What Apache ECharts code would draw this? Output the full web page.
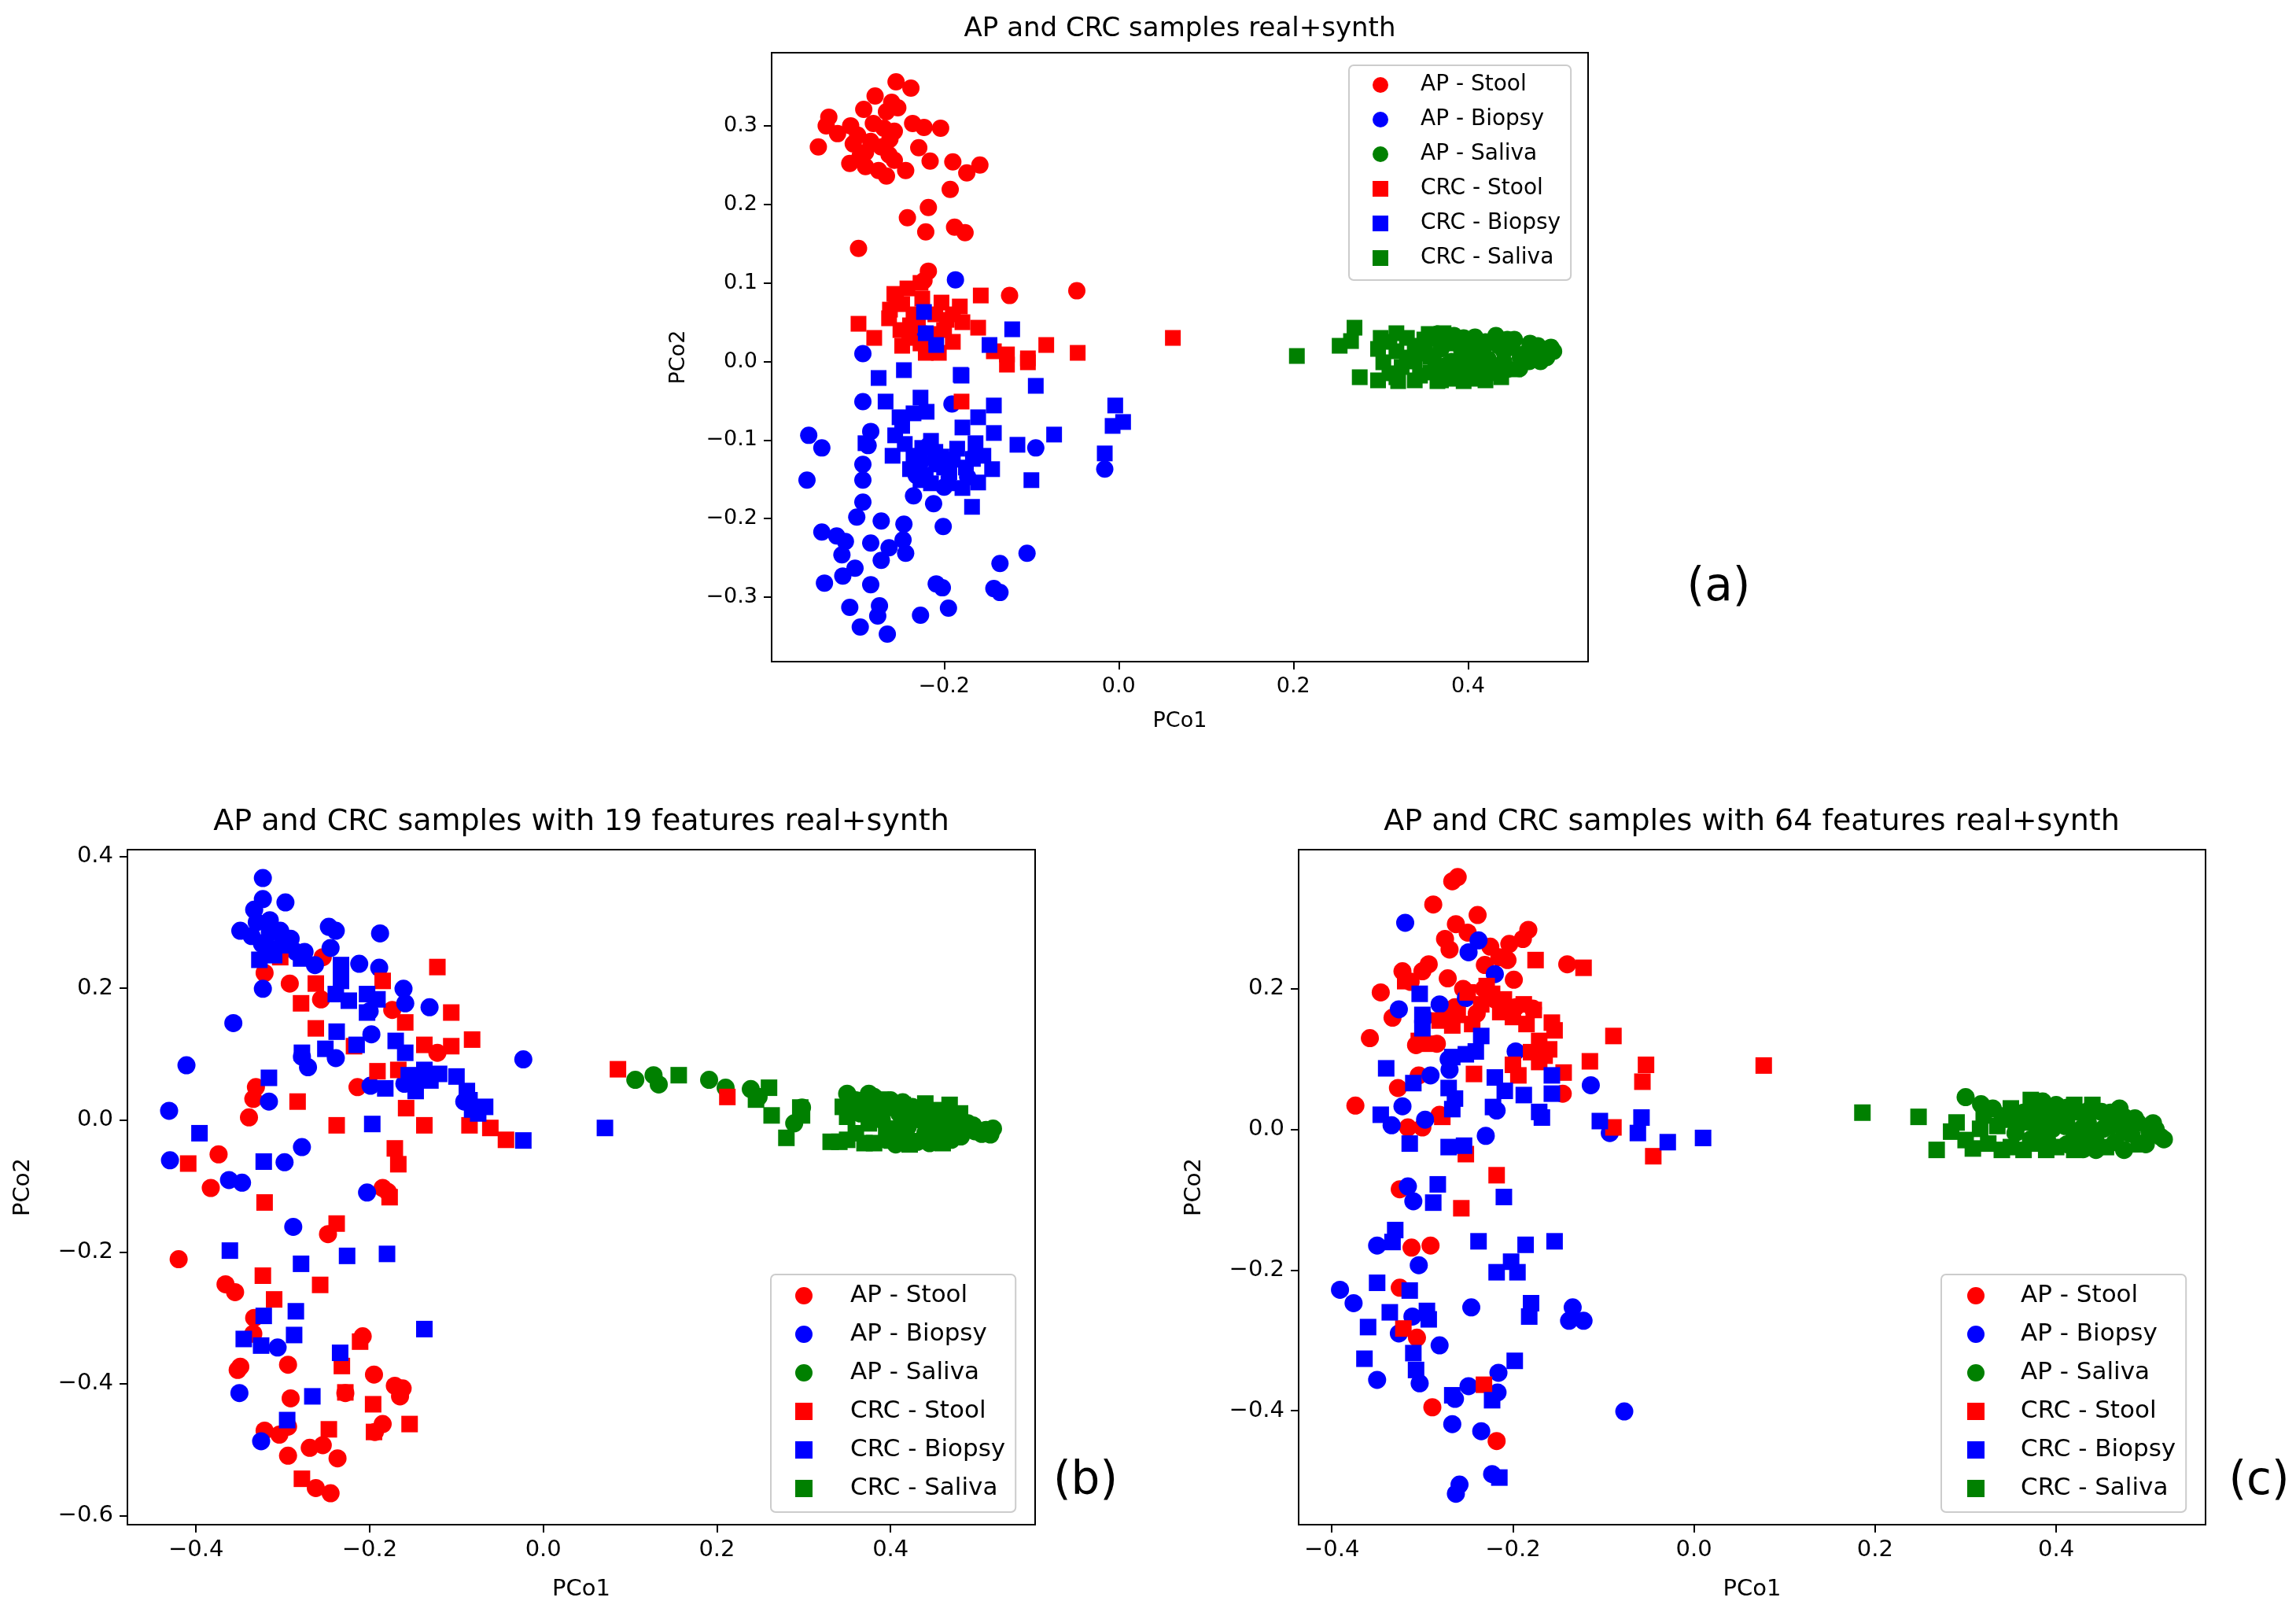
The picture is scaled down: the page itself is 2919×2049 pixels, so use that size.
<!DOCTYPE html>
<html>
<head>
<meta charset="utf-8">
<script src="https://cdn.jsdelivr.net/npm/echarts@6/dist/echarts.min.js"></script>
<style>html,body{margin:0;padding:0;background:#fff}#c{width:2919px;height:2049px}</style>
</head>
<body>
<div id="c"></div>
<script>
// ---------- Panel (a) ----------
const aXTicks = [-0.2, 0.0, 0.2, 0.4];
const aYTicks = [-0.3, -0.2, -0.1, 0.0, 0.1, 0.2, 0.3];
const a_apStool = [[-0.255,0.356],[-0.238,0.348],[-0.279,0.338],[-0.260,0.330],[-0.253,0.323],[-0.292,0.321],[-0.266,0.318],[-0.332,0.311],[-0.335,0.300],[-0.322,0.290],[-0.307,0.300],[-0.344,0.273],[-0.299,0.288],[-0.304,0.277],[-0.269,0.297],[-0.257,0.293],[-0.236,0.303],[-0.223,0.298],[-0.204,0.297],[-0.229,0.272],[-0.284,0.280],[-0.272,0.273],[-0.263,0.263],[-0.308,0.252],[-0.290,0.248],[-0.275,0.243],[-0.266,0.236],[-0.244,0.243],[-0.216,0.255],[-0.190,0.254],[-0.159,0.250],[-0.174,0.240],[-0.193,0.219],[-0.218,0.196],[-0.242,0.183],[-0.221,0.165],[-0.188,0.171],[-0.176,0.164],[-0.298,0.144],[-0.218,0.115],[-0.223,0.103],[-0.125,0.084],[-0.048,0.090],[-0.290,0.266],[-0.257,0.256],[-0.281,0.303],[-0.296,0.262],[-0.262,0.283]];
const a_apBiopsy = [[-0.187,0.104],[-0.293,0.010],[-0.293,-0.051],[-0.355,-0.094],[-0.340,-0.110],[-0.357,-0.151],[-0.284,-0.089],[-0.287,-0.107],[-0.293,-0.131],[-0.293,-0.151],[-0.293,-0.179],[-0.300,-0.198],[-0.272,-0.203],[-0.246,-0.207],[-0.201,-0.210],[-0.340,-0.217],[-0.323,-0.222],[-0.313,-0.229],[-0.317,-0.246],[-0.284,-0.231],[-0.263,-0.237],[-0.247,-0.227],[-0.244,-0.244],[-0.272,-0.253],[-0.302,-0.263],[-0.316,-0.273],[-0.337,-0.282],[-0.284,-0.284],[-0.209,-0.283],[-0.202,-0.288],[-0.136,-0.257],[-0.105,-0.244],[-0.143,-0.289],[-0.136,-0.294],[-0.308,-0.313],[-0.274,-0.311],[-0.276,-0.324],[-0.296,-0.338],[-0.265,-0.347],[-0.227,-0.323],[-0.195,-0.314],[-0.095,-0.110],[-0.016,-0.137],[-0.235,-0.171],[-0.212,-0.181],[-0.191,-0.054],[-0.226,-0.127],[-0.173,-0.147],[-0.218,-0.107],[-0.222,0.035],[-0.215,0.025],[-0.232,-0.145],[-0.200,-0.160],[-0.165,-0.120]];
const a_apSaliva = [[0.357,0.030],[0.384,0.033],[0.408,0.031],[0.432,0.033],[0.453,0.028],[0.471,0.023],[0.492,0.016],[0.498,0.013],[0.483,0.000],[0.459,-0.009],[0.429,-0.014],[0.399,-0.014],[0.369,0.016],[0.393,0.013],[0.417,0.016],[0.441,0.013],[0.465,0.010],[0.381,0.000],[0.411,0.000],[0.441,0.000],[0.474,0.013],[0.363,-0.007],[0.423,0.003],[0.387,-0.010],[0.486,0.010],[0.495,0.018],[0.350,0.020],[0.360,0.005],[0.375,0.025],[0.375,-0.005],[0.390,0.022],[0.400,0.005],[0.405,-0.008],[0.420,0.025],[0.425,-0.005],[0.435,0.020],[0.445,-0.010],[0.450,0.018],[0.460,0.005],[0.470,0.000],[0.480,0.020],[0.490,0.005],[0.415,-0.018],[0.445,0.028],[0.365,0.035],[0.395,0.030]];
const a_crcStool = [[-0.158,0.084],[-0.257,0.086],[-0.242,0.093],[-0.227,0.100],[-0.262,0.066],[-0.248,0.073],[-0.203,0.075],[-0.182,0.070],[-0.298,0.048],[-0.263,0.055],[-0.239,0.046],[-0.197,0.053],[-0.179,0.050],[-0.161,0.043],[-0.280,0.030],[-0.248,0.020],[-0.227,0.023],[-0.190,0.025],[-0.083,0.021],[-0.047,0.011],[-0.128,0.009],[-0.104,0.004],[-0.221,0.011],[-0.206,0.011],[-0.143,0.013],[-0.128,-0.004],[-0.104,-0.001],[-0.180,-0.051],[0.062,0.030],[-0.235,0.060],[-0.215,0.035],[-0.250,0.040],[-0.230,0.050],[-0.210,0.060],[-0.240,0.030],[-0.200,0.040],[-0.190,0.060],[-0.255,0.075],[-0.225,0.080]];
const a_crcBiopsy = [[-0.275,-0.021],[-0.246,-0.011],[-0.181,-0.017],[-0.095,-0.031],[-0.267,-0.051],[-0.227,-0.046],[-0.220,-0.064],[-0.251,-0.071],[-0.248,-0.082],[-0.256,-0.094],[-0.235,-0.066],[-0.143,-0.056],[-0.161,-0.071],[-0.143,-0.091],[-0.179,-0.084],[-0.116,-0.106],[-0.074,-0.093],[-0.004,-0.056],[0.005,-0.077],[-0.007,-0.082],[-0.016,-0.117],[-0.259,-0.120],[-0.215,-0.101],[-0.203,-0.121],[-0.185,-0.111],[-0.164,-0.104],[-0.239,-0.137],[-0.221,-0.144],[-0.209,-0.131],[-0.194,-0.141],[-0.167,-0.124],[-0.145,-0.137],[-0.161,-0.154],[-0.179,-0.161],[-0.100,-0.151],[-0.168,-0.185],[-0.227,-0.151],[-0.290,-0.104],[-0.223,0.063],[-0.122,0.041],[-0.148,0.021],[-0.209,0.021],[-0.221,0.036],[-0.180,-0.018],[-0.235,-0.120],[-0.225,-0.110],[-0.230,-0.130],[-0.210,-0.115],[-0.200,-0.135],[-0.190,-0.125],[-0.245,-0.105],[-0.175,-0.135],[-0.155,-0.120],[-0.215,-0.155],[-0.195,-0.155]];
const a_crcSaliva = [[0.204,0.007],[0.270,0.043],[0.253,0.020],[0.266,0.026],[0.276,-0.020],[0.318,0.036],[0.297,0.016],[0.297,-0.024],[0.318,-0.020],[0.339,-0.024],[0.372,0.036],[0.369,-0.024],[0.420,-0.024],[0.438,-0.020],[0.303,-0.001],[0.318,0.013],[0.324,-0.007],[0.339,0.020],[0.339,0.000],[0.357,0.006],[0.357,-0.014],[0.387,0.000],[0.399,-0.017],[0.381,0.023],[0.408,0.013],[0.453,-0.010],[0.310,0.025],[0.310,-0.015],[0.330,0.030],[0.330,0.005],[0.345,-0.018],[0.350,0.028],[0.365,-0.025],[0.380,-0.022],[0.395,-0.025],[0.410,-0.022],[0.345,0.010],[0.300,0.030],[0.320,-0.025],[0.355,0.035]];

// ---------- Panel (b) ----------
const bXTicks = [-0.4, -0.2, 0.0, 0.2, 0.4];
const bYTicks = [-0.6, -0.4, -0.2, 0.0, 0.2, 0.4];
const b_apStool = [[-0.321,0.223],[-0.292,0.207],[-0.256,0.183],[-0.254,0.247],[-0.174,0.167],[-0.334,0.032],[-0.331,0.050],[-0.339,0.004],[-0.374,-0.052],[-0.383,-0.103],[-0.214,0.050],[-0.122,0.102],[-0.185,-0.103],[-0.179,-0.109],[-0.248,-0.173],[-0.420,-0.211],[-0.366,-0.249],[-0.355,-0.261],[-0.333,-0.300],[-0.334,-0.324],[-0.349,-0.374],[-0.352,-0.379],[-0.294,-0.371],[-0.208,-0.328],[-0.195,-0.386],[-0.171,-0.403],[-0.162,-0.407],[-0.165,-0.419],[-0.291,-0.422],[-0.228,-0.414],[-0.321,-0.471],[-0.304,-0.477],[-0.294,-0.465],[-0.185,-0.461],[-0.194,-0.473],[-0.269,-0.497],[-0.254,-0.493],[-0.294,-0.509],[-0.237,-0.513],[-0.262,-0.558],[-0.245,-0.566]];
const b_apBiopsy = [[-0.323,0.367],[-0.323,0.335],[-0.297,0.330],[-0.333,0.319],[-0.349,0.287],[-0.315,0.303],[-0.303,0.287],[-0.291,0.275],[-0.247,0.293],[-0.239,0.287],[-0.188,0.283],[-0.245,0.261],[-0.275,0.255],[-0.263,0.235],[-0.212,0.237],[-0.189,0.231],[-0.323,0.199],[-0.161,0.199],[-0.159,0.177],[-0.131,0.171],[-0.200,0.165],[-0.357,0.147],[-0.198,0.130],[-0.411,0.083],[-0.023,0.092],[-0.239,0.094],[-0.271,0.080],[-0.278,0.096],[-0.316,0.028],[-0.431,0.014],[-0.199,0.052],[-0.430,-0.061],[-0.298,-0.064],[-0.278,-0.041],[-0.362,-0.091],[-0.347,-0.095],[-0.203,-0.110],[-0.140,0.062],[-0.160,0.055],[-0.336,0.279],[-0.324,0.267],[-0.091,0.028],[-0.288,-0.162],[-0.306,-0.345],[-0.350,-0.414],[-0.325,-0.487],[-0.330,0.300],[-0.315,0.285],[-0.320,0.270],[-0.300,0.275],[-0.285,0.255]];
const b_apSaliva = [[0.106,0.061],[0.127,0.068],[0.133,0.054],[0.191,0.061],[0.210,0.049],[0.239,0.047],[0.248,0.035],[0.289,-0.005],[0.298,0.019],[0.352,0.035],[0.373,0.027],[0.397,0.019],[0.422,0.011],[0.447,-0.005],[0.472,-0.013],[0.497,-0.017],[0.518,-0.013],[0.406,-0.037],[0.431,-0.033],[0.456,-0.029],[0.481,-0.025],[0.505,-0.021],[0.356,0.019],[0.381,0.035],[0.414,0.027],[0.456,0.003],[0.489,-0.005],[0.360,0.030],[0.365,0.010],[0.375,0.040],[0.385,0.020],[0.390,0.000],[0.400,0.030],[0.410,0.010],[0.420,-0.010],[0.425,0.020],[0.435,0.000],[0.440,-0.020],[0.450,0.010],[0.460,-0.015],[0.465,0.005],[0.475,-0.005],[0.485,-0.015],[0.495,-0.008],[0.510,-0.015],[0.515,-0.022],[0.420,-0.028],[0.445,-0.035],[0.470,-0.030],[0.395,-0.030],[0.380,0.005],[0.350,0.040],[0.440,0.015]];
const b_crcStool = [[-0.122,0.232],[-0.303,0.247],[-0.279,0.177],[-0.262,0.207],[-0.185,0.211],[-0.106,0.163],[-0.262,0.139],[-0.159,0.148],[-0.082,0.122],[-0.137,0.114],[-0.106,0.112],[-0.218,0.112],[-0.191,0.074],[-0.167,0.076],[-0.283,0.028],[-0.158,0.018],[-0.238,-0.008],[-0.137,-0.008],[-0.085,-0.008],[-0.061,-0.012],[-0.043,-0.030],[-0.171,-0.043],[-0.167,-0.067],[-0.409,-0.066],[0.086,0.077],[0.212,0.035],[-0.321,-0.125],[-0.177,-0.117],[-0.238,-0.157],[-0.323,-0.236],[-0.257,-0.250],[-0.310,-0.272],[-0.211,-0.336],[-0.232,-0.373],[-0.228,-0.413],[-0.196,-0.431],[-0.154,-0.461],[-0.247,-0.469],[-0.195,-0.473],[-0.278,-0.544]];
const b_crcBiopsy = [[-0.327,0.243],[-0.312,0.259],[-0.279,0.245],[-0.233,0.235],[-0.233,0.211],[-0.239,0.191],[-0.224,0.181],[-0.203,0.191],[-0.191,0.183],[-0.203,0.163],[-0.238,0.134],[-0.251,0.108],[-0.215,0.114],[-0.170,0.120],[-0.159,0.102],[-0.278,0.102],[-0.316,0.064],[-0.155,0.068],[-0.137,0.076],[-0.100,0.066],[-0.147,0.044],[-0.182,0.048],[-0.088,0.044],[-0.082,0.016],[-0.067,0.020],[-0.197,-0.006],[-0.023,-0.031],[-0.396,-0.020],[-0.322,-0.063],[0.071,-0.012],[-0.361,-0.198],[-0.279,-0.218],[-0.226,-0.206],[-0.180,-0.203],[-0.322,-0.297],[-0.285,-0.290],[-0.137,-0.317],[-0.287,-0.326],[-0.345,-0.332],[-0.325,-0.342],[-0.234,-0.353],[-0.266,-0.419],[-0.295,-0.455],[-0.300,0.265],[-0.310,0.250],[-0.085,0.030],[-0.075,0.010],[-0.130,0.060],[-0.120,0.070]];
const b_crcSaliva = [[0.156,0.068],[0.260,0.049],[0.245,0.031],[0.263,0.007],[0.296,0.019],[0.298,0.007],[0.280,-0.027],[0.331,-0.033],[0.341,-0.033],[0.381,-0.035],[0.354,0.027],[0.389,0.031],[0.414,0.023],[0.439,0.015],[0.468,0.023],[0.373,0.011],[0.422,-0.037],[0.406,-0.013],[0.345,0.020],[0.350,0.005],[0.360,-0.020],[0.365,0.030],[0.370,-0.035],[0.385,0.010],[0.395,-0.015],[0.400,0.025],[0.410,-0.030],[0.430,0.010],[0.440,0.025],[0.455,0.015],[0.460,-0.035],[0.480,0.010],[0.350,-0.030],[0.375,-0.005]];

// ---------- Panel (c) ----------
const cXTicks = [-0.4, -0.2, 0.0, 0.2, 0.4];
const cYTicks = [-0.4, -0.2, 0.0, 0.2];
const c_apStool = [[-0.267,0.353],[-0.261,0.359],[-0.288,0.320],[-0.239,0.305],[-0.263,0.292],[-0.183,0.284],[-0.275,0.271],[-0.270,0.256],[-0.204,0.264],[-0.189,0.271],[-0.293,0.235],[-0.322,0.225],[-0.272,0.215],[-0.231,0.234],[-0.206,0.241],[-0.199,0.213],[-0.140,0.235],[-0.346,0.195],[-0.313,0.210],[-0.358,0.130],[-0.307,0.120],[-0.374,0.034],[-0.327,0.059],[-0.304,0.077],[-0.281,0.021],[-0.316,0.003],[-0.300,0.003],[-0.275,0.159],[-0.232,0.200],[-0.178,0.172],[-0.197,0.174],[-0.333,0.159],[-0.264,0.174],[-0.145,0.051],[-0.325,-0.085],[-0.312,-0.168],[-0.291,-0.165],[-0.325,-0.225],[-0.306,-0.296],[-0.289,-0.395],[-0.218,-0.443],[-0.284,0.122],[-0.250,0.280],[-0.225,0.260],[-0.215,0.245],[-0.300,0.225],[-0.255,0.200],[-0.220,0.185],[-0.240,0.165]];
const c_apBiopsy = [[-0.319,0.294],[-0.238,0.269],[-0.249,0.252],[-0.220,0.221],[-0.252,0.187],[-0.281,0.178],[-0.326,0.171],[-0.298,0.159],[-0.197,0.111],[-0.271,0.100],[-0.270,0.085],[-0.291,0.077],[-0.322,0.033],[-0.334,0.006],[-0.297,0.014],[-0.218,0.027],[-0.230,-0.009],[-0.114,0.063],[-0.093,-0.005],[-0.316,-0.081],[-0.310,-0.102],[-0.350,-0.165],[-0.304,-0.193],[-0.391,-0.228],[-0.376,-0.247],[-0.246,-0.253],[-0.311,-0.266],[-0.326,-0.290],[-0.281,-0.307],[-0.134,-0.253],[-0.138,-0.272],[-0.122,-0.272],[-0.216,-0.346],[-0.350,-0.356],[-0.303,-0.361],[-0.249,-0.365],[-0.217,-0.374],[-0.264,-0.383],[-0.077,-0.401],[-0.267,-0.419],[-0.235,-0.429],[-0.223,-0.490],[-0.259,-0.505],[-0.263,-0.518]];
const c_apSaliva = [[0.300,0.046],[0.317,0.036],[0.364,0.024],[0.388,0.031],[0.412,0.031],[0.436,0.027],[0.460,0.024],[0.487,0.016],[0.507,0.009],[0.519,-0.014],[0.499,-0.021],[0.475,-0.029],[0.444,-0.029],[0.412,-0.021],[0.452,0.001],[0.483,-0.006],[0.396,0.001],[0.428,0.001],[0.372,-0.014],[0.404,0.016],[0.503,-0.003],[0.330,0.030],[0.345,0.015],[0.355,-0.005],[0.375,0.030],[0.380,0.010],[0.390,-0.015],[0.400,0.035],[0.410,0.005],[0.420,-0.012],[0.425,0.025],[0.435,0.010],[0.440,-0.015],[0.450,0.025],[0.460,0.005],[0.465,-0.018],[0.475,0.018],[0.480,-0.005],[0.490,0.010],[0.495,-0.020],[0.510,0.000],[0.515,-0.010],[0.385,0.040],[0.430,-0.028],[0.470,0.030]];
const c_crcStool = [[-0.175,0.241],[-0.122,0.230],[-0.319,0.211],[-0.229,0.204],[-0.223,0.193],[-0.235,0.178],[-0.214,0.167],[-0.188,0.178],[-0.177,0.170],[-0.267,0.148],[-0.281,0.155],[-0.261,0.163],[-0.157,0.152],[-0.154,0.141],[-0.293,0.122],[-0.304,0.126],[-0.171,0.126],[-0.160,0.114],[-0.171,0.096],[-0.089,0.133],[-0.115,0.097],[-0.053,0.092],[-0.057,0.068],[-0.200,0.092],[-0.194,0.077],[-0.243,0.079],[-0.144,0.081],[-0.278,0.018],[-0.089,0.003],[-0.045,-0.038],[-0.218,-0.065],[-0.252,-0.035],[0.077,0.091],[-0.257,-0.112],[-0.321,-0.283],[-0.232,-0.363],[-0.250,0.195],[-0.200,0.160],[-0.185,0.150],[-0.245,0.150],[-0.210,0.185],[-0.165,0.105],[-0.180,0.110]];
const c_crcBiopsy = [[-0.303,0.193],[-0.300,0.163],[-0.300,0.144],[-0.235,0.133],[-0.241,0.111],[-0.252,0.107],[-0.267,0.103],[-0.340,0.087],[-0.310,0.066],[-0.271,0.059],[-0.264,0.044],[-0.267,0.029],[-0.220,0.074],[-0.209,0.055],[-0.188,0.049],[-0.157,0.077],[-0.157,0.051],[-0.171,0.025],[-0.168,0.017],[-0.222,0.032],[-0.346,0.021],[-0.314,-0.020],[-0.271,-0.025],[-0.254,-0.023],[-0.104,0.012],[-0.058,0.017],[-0.062,-0.005],[-0.029,-0.018],[0.010,-0.012],[-0.283,-0.078],[-0.288,-0.104],[-0.210,-0.096],[-0.330,-0.143],[-0.333,-0.160],[-0.238,-0.159],[-0.186,-0.164],[-0.154,-0.159],[-0.202,-0.188],[-0.218,-0.203],[-0.195,-0.203],[-0.350,-0.218],[-0.314,-0.229],[-0.180,-0.247],[-0.182,-0.266],[-0.336,-0.260],[-0.295,-0.258],[-0.293,-0.270],[-0.360,-0.281],[-0.310,-0.318],[-0.364,-0.326],[-0.307,-0.342],[-0.198,-0.329],[-0.267,-0.378],[-0.223,-0.385],[-0.215,-0.495]];
const c_crcSaliva = [[0.186,0.024],[0.248,0.018],[0.268,-0.029],[0.284,-0.003],[0.308,-0.027],[0.316,0.001],[0.340,0.020],[0.340,-0.029],[0.364,-0.029],[0.372,0.042],[0.389,-0.029],[0.356,0.009],[0.380,-0.003],[0.412,0.009],[0.444,-0.006],[0.475,0.001],[0.491,-0.021],[0.420,-0.029],[0.290,0.010],[0.300,-0.015],[0.320,0.020],[0.325,-0.020],[0.335,0.005],[0.350,0.030],[0.350,-0.025],[0.365,0.010],[0.375,-0.020],[0.380,0.040],[0.395,0.020],[0.400,-0.025],[0.420,0.035],[0.430,-0.010],[0.455,-0.025],[0.465,0.012],[0.440,0.035]];

const seriesNames = ['AP - Stool','AP - Biopsy','AP - Saliva','CRC - Stool','CRC - Biopsy','CRC - Saliva'];
const seriesColors = ['#ff0000','#0000ff','#008000','#ff0000','#0000ff','#008000'];
const seriesSymbols = ['circle','circle','circle','rect','rect','rect'];

const FONT = 'DejaVu Sans';
const fmt = v => (v < 0 ? '\u2212' : '') + Math.abs(v).toFixed(1);

const panels = [
  {grid:{left:981, top:67, width:1038, height:774}, x:[-0.3975,0.5375], y:[-0.382,0.393], xt:aXTicks, yt:aYTicks,
   data:[a_apStool,a_apBiopsy,a_apSaliva,a_crcStool,a_crcBiopsy,a_crcSaliva], circ:22, sq:20, fs:27, xGap:62, yGap:105},
  {grid:{left:162, top:1080, width:1154, height:858}, x:[-0.479,0.5665], y:[-0.6136,0.410], xt:bXTicks, yt:bYTicks,
   data:[b_apStool,b_apBiopsy,b_apSaliva,b_crcStool,b_crcBiopsy,b_crcSaliva], circ:23, sq:21, fs:29, xGap:68, yGap:118},
  {grid:{left:1651, top:1080, width:1153, height:858}, x:[-0.4367,0.565], y:[-0.562,0.398], xt:cXTicks, yt:cYTicks,
   data:[c_apStool,c_apBiopsy,c_apSaliva,c_crcStool,c_crcBiopsy,c_crcSaliva], circ:23, sq:21, fs:29, xGap:68, yGap:118}
];

const grids = [], xAxes = [], yAxes = [], series = [];
panels.forEach((p, i) => {
  grids.push(Object.assign({show:true, borderColor:'#000', borderWidth:2, backgroundColor:'#fff', containLabel:false}, p.grid));
  const common = (ticks) => ({
    axisLine:{show:true, onZero:false, lineStyle:{color:'#000', width:2}},
    axisTick:{show:true, inside:false, length:10, lineStyle:{color:'#000', width:2}, customValues:ticks},
    axisLabel:{show:true, customValues:ticks, formatter:fmt, color:'#000', fontSize:p.fs, fontFamily:FONT, margin:18},
    splitLine:{show:false},
    nameTextStyle:{color:'#000', fontSize:p.fs, fontFamily:FONT},
    nameLocation:'middle'
  });
  xAxes.push(Object.assign(common(p.xt), {type:'value', gridIndex:i, min:p.x[0], max:p.x[1], name:'PCo1', nameGap:p.xGap}));
  yAxes.push(Object.assign(common(p.yt), {type:'value', gridIndex:i, min:p.y[0], max:p.y[1], name:'PCo2', nameGap:p.yGap}));
  p.data.forEach((d, k) => {
    series.push({
      type:'scatter', name:seriesNames[k], data:d, xAxisIndex:i, yAxisIndex:i,
      symbol:seriesSymbols[k], symbolSize: seriesSymbols[k]==='circle' ? p.circ : p.sq,
      itemStyle:{color:seriesColors[k], opacity:1}, emphasis:{disabled:true}, silent:true
    });
  });
});

function legendFor(left, top, sz, lh, gap, padL, textPad) {
  return {
    orient:'vertical', left:left, top:top, itemWidth:sz, itemHeight:sz, itemGap:gap,
    padding:[8,13,11,padL], borderColor:'#cccccc', borderWidth:2, borderRadius:6,
    backgroundColor:'rgba(255,255,255,0.85)', selectedMode:false,
    data: seriesNames.map((n,k)=>({name:n, icon:seriesSymbols[k]==='circle'?'circle':'rect'})),
    textStyle:{color:'#000', fontFamily:FONT, fontSize: sz===20?28:31, lineHeight:lh, padding:[0,0,0,textPad]}
  };
}

const titleFont = (s) => s + 'px "' + FONT + '"';
const option = {
  backgroundColor:'#fff',
  animation:false,
  grid:grids, xAxis:xAxes, yAxis:yAxes, series:series,
  legend:[
    legendFor(1715, 83, 20, 34, 10, 30, 36),
    legendFor(980, 1620, 22, 38, 11, 31, 43),
    legendFor(2468, 1620, 22, 38, 11, 33, 41)
  ],
  graphic:[
    {type:'text', x:1500, y:37, style:{text:'AP and CRC samples real+synth', font:titleFont(34), fill:'#000', textAlign:'center', textVerticalAlign:'middle'}},
    {type:'text', x:739, y:1045, style:{text:'AP and CRC samples with 19 features real+synth', font:titleFont(38), fill:'#000', textAlign:'center', textVerticalAlign:'middle'}},
    {type:'text', x:2227, y:1045, style:{text:'AP and CRC samples with 64 features real+synth', font:titleFont(38), fill:'#000', textAlign:'center', textVerticalAlign:'middle'}},
    {type:'text', x:2185, y:748, style:{text:'(a)', font:titleFont(58), fill:'#000', textAlign:'center', textVerticalAlign:'middle'}},
    {type:'text', x:1380, y:1884, style:{text:'(b)', font:titleFont(58), fill:'#000', textAlign:'center', textVerticalAlign:'middle'}},
    {type:'text', x:2872, y:1884, style:{text:'(c)', font:titleFont(58), fill:'#000', textAlign:'center', textVerticalAlign:'middle'}}
  ]
};
const chart = echarts.init(document.getElementById('c'), null, {renderer:'canvas', width:2919, height:2049});
chart.setOption(option);
</script>
</body>
</html>
